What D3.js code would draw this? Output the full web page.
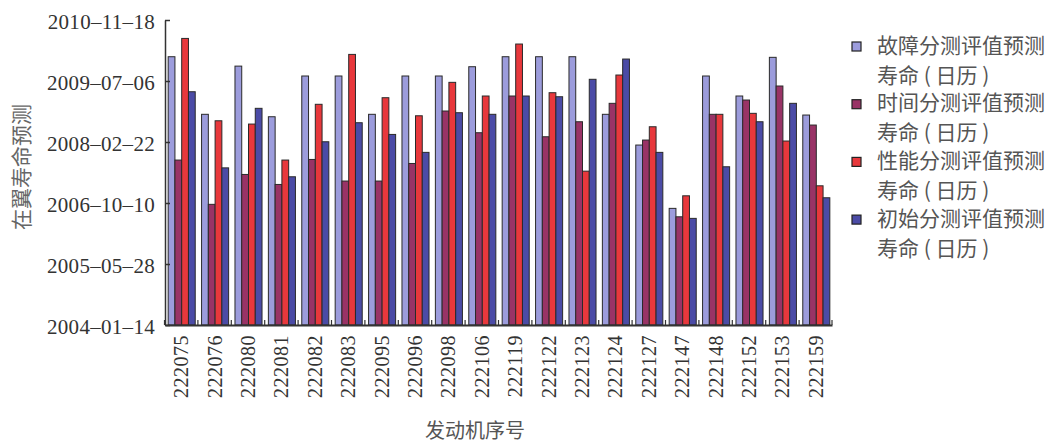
<!DOCTYPE html>
<html><head><meta charset="utf-8">
<script src="https://cdn.jsdelivr.net/npm/d3@7"></script>
<style>
html,body{margin:0;padding:0;background:#fff;}
svg{display:block;}
</style>
</head><body>
<svg id="chart" width="1047" height="445"></svg>
<script>
const categories = ["222075","222076","222080","222081","222082","222083","222095","222096","222098","222106",
  "222119","222122","222123","222124","222127","222147","222148","222152","222153","222159"];
const faultPred = ["2010-01-21","2008-10-06","2009-11-05","2008-09-16","2009-08-16","2009-08-16","2008-10-06","2009-08-16","2009-08-16","2009-10-31",
  "2010-01-21","2010-01-21","2010-01-21","2008-10-06","2008-01-28","2006-08-27","2009-08-16","2009-03-05","2010-01-16","2008-09-30"];
const timePred = ["2007-09-27","2006-09-29","2007-06-01","2007-03-11","2007-10-02","2007-04-08","2007-04-08","2007-08-30","2008-11-02","2008-05-08",
  "2009-03-05","2008-04-05","2008-08-06","2009-01-04","2008-03-09","2006-06-19","2008-10-06","2009-01-31","2009-05-26","2008-07-10"];
const perfPred = ["2010-06-20","2008-08-14","2008-07-18","2007-09-27","2008-12-27","2010-02-09","2009-02-19","2008-09-24","2009-06-25","2009-03-05",
  "2010-05-05","2009-04-01","2007-06-28","2009-08-24","2008-06-26","2006-12-08","2008-10-06","2008-10-14","2008-03-01","2007-02-28"];
const initPred = ["2009-04-09","2007-07-25","2008-11-24","2007-05-13","2008-02-24","2008-07-29","2008-04-24","2007-11-29","2008-10-19","2008-10-06",
  "2009-03-05","2009-02-27","2009-07-20","2010-01-02","2007-11-29","2006-06-06","2007-08-03","2008-08-06","2009-01-04","2006-11-22"];
const seriesNames = ["故障分测评值预测","时间分测评值预测","性能分测评值预测","初始分测评值预测"];
const legendSubLabel = "寿命 ( 日历 )";
const yTickLabels = ["2004-01-14","2005-05-28","2006-10-10","2008-02-22","2009-07-06","2010-11-18"];
const yTitle = "在翼寿命预测";
const xTitle = "发动机序号";
const colors = ["#9c9cdc","#993366","#e8383c","#4b4ba6"];

(function(){
const parse = d3.utcParse("%Y-%m-%d");
const series = [faultPred, timePred, perfPred, initPred];
const data = categories.map((c,i)=>({cat:c, vals: series.map((s,k)=>({k, date: parse(s[i])}))}));
const tickDates = yTickLabels.map(parse);

const svg = d3.select("#chart");
const mLeft = 165, mRight = 832, mTop = 20, mBottom = 325;

const y = d3.scaleUtc().domain([tickDates[0], tickDates[tickDates.length-1]]).range([mBottom, mTop]);
const x0 = d3.scaleBand().domain(categories).range([mLeft, mRight]).paddingInner(0.19).paddingOuter(0.08);
const x1 = d3.scaleBand().domain(d3.range(4)).range([0, x0.bandwidth()]);

// bars
const g = svg.append("g");
g.selectAll("g.grp").data(data).join("g").attr("class","grp")
  .attr("transform", d=>`translate(${x0(d.cat)},0)`)
  .selectAll("rect").data(d=>d.vals).join("rect")
  .attr("x", d=>x1(d.k)+0.5)
  .attr("width", x1.bandwidth())
  .attr("y", d=>y(d.date))
  .attr("height", d=>mBottom - y(d.date))
  .attr("fill", d=>colors[d.k])
  .attr("stroke","#2a2a2a").attr("stroke-width",1);

// y axis
const yAxis = d3.axisLeft(y).tickValues(tickDates).tickFormat(d3.utcFormat("%Y–%m–%d"))
  .tickSizeInner(-5).tickSizeOuter(0).tickPadding(10);
const ya = svg.append("g").attr("transform",`translate(${mLeft},0)`).call(yAxis);
ya.select(".domain").attr("stroke","#333").attr("stroke-width",1.5);
ya.selectAll(".tick line").attr("stroke","#333").attr("stroke-width",1.5);
ya.selectAll("text").attr("font-family","'Liberation Serif', serif").attr("font-size",21)
  .attr("fill","#333").attr("letter-spacing","0.3px").attr("dy","0.42em");

// x axis
const xAxis = d3.axisBottom(x0).tickSize(0).tickPadding(0);
const xa = svg.append("g").attr("transform",`translate(0,${mBottom})`).call(xAxis);
xa.select(".domain").attr("stroke","#333").attr("stroke-width",2);
xa.selectAll(".tick text")
  .attr("transform","rotate(-90)")
  .attr("text-anchor","end")
  .attr("x",-10).attr("y",0).attr("dy","0.35em")
  .attr("font-family","'Liberation Serif', serif").attr("font-size",20)
  .attr("fill","#333").attr("letter-spacing","0.5px");
// boundary ticks between categories
const bounds = categories.map(c=>x0(c) - x0.step()*x0.paddingInner()/2).concat([mRight]);
svg.append("g").selectAll("line").data(bounds).join("line")
  .attr("x1",d=>d).attr("x2",d=>d).attr("y1",mBottom).attr("y2",mBottom-5)
  .attr("stroke","#333").attr("stroke-width",1.2);

// axis titles
svg.append("text").attr("transform","translate(23,167) rotate(-90)")
  .attr("text-anchor","middle").attr("dominant-baseline","middle")
  .attr("font-family","'Noto Sans CJK SC', sans-serif").attr("font-size",21)
  .attr("fill","#666").text(yTitle);
svg.append("text").attr("x",475).attr("y",433)
  .attr("text-anchor","middle").attr("dominant-baseline","middle")
  .attr("font-family","'Noto Sans CJK SC', sans-serif").attr("font-size",20)
  .attr("fill","#555").text(xTitle);

// legend
const lg = svg.append("g").attr("transform","translate(852,0)");
const items = lg.selectAll("g").data(seriesNames).join("g")
  .attr("transform",(d,i)=>`translate(0,${47 + i*57.7})`);
items.append("rect").attr("x",0).attr("y",-5).attr("width",9).attr("height",9)
  .attr("fill",(d,i)=>colors[i]).attr("stroke","#222").attr("stroke-width",1.2);
items.append("text").attr("x",25).attr("y",0).attr("dominant-baseline","middle")
  .attr("font-family","'Noto Sans CJK SC', sans-serif").attr("font-size",21)
  .attr("fill","#555").text(d=>d);
items.append("text").attr("x",25).attr("y",30).attr("dominant-baseline","middle")
  .attr("font-family","'Noto Sans CJK SC', sans-serif").attr("font-size",21)
  .attr("fill","#555").text(legendSubLabel);
})();
</script>
</body></html>
